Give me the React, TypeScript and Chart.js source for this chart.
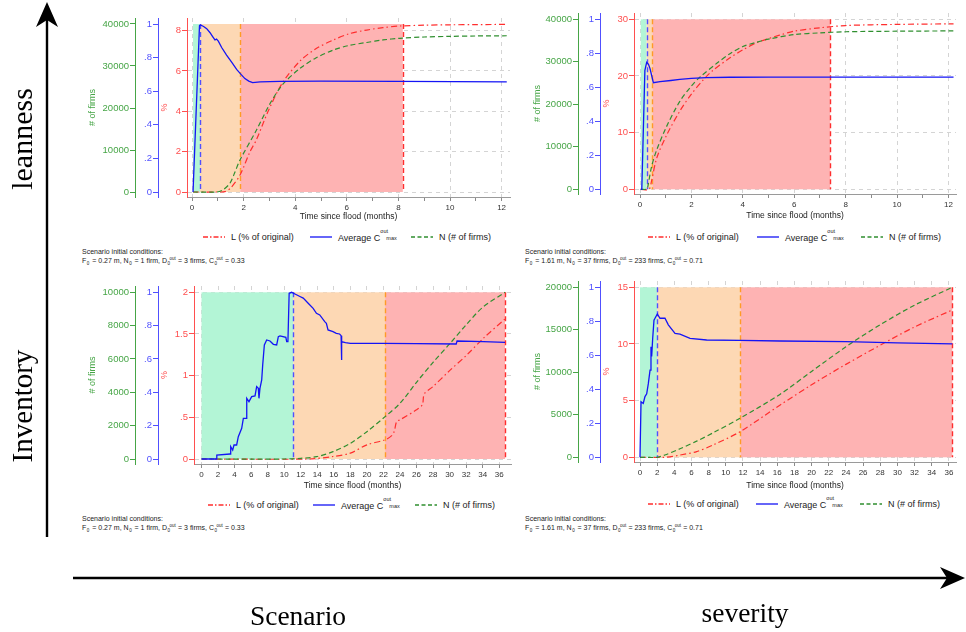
import React, { useEffect, useRef } from "react";
import { Chart, registerables } from "chart.js";

Chart.register(...registerables);

const SANS = '"Liberation Sans", Arial, Helvetica, sans-serif';
const SERIF = '"Liberation Serif", "Times New Roman", serif';

const GREEN_AXIS = "#46a546";
const GREEN_LINE = "#2f8f2f";
const BLUE_AXIS = "#5050ff";
const BLUE_LINE = "#1414f5";
const RED_AXIS = "#ff4f4f";
const RED_LINE = "#ff2e2e";
const ORANGE = "#ff9b26";
const MINT = "#b3f5d6";
const PEACH = "#fdd8b4";
const PINK = "#feb3b3";
const GRID = "#d4d4d4";

// ---------- shared ticks ----------
const blueTicks = [0, 0.2, 0.4, 0.6, 0.8, 1];
const blueLabels = ["0", ".2", ".4", ".6", ".8", "1"];
const shortXTicks = [0, 2, 4, 6, 8, 10, 12];
const shortXMinor = [1, 3, 5, 7, 9, 11];
const longXTicks = [0, 2, 4, 6, 8, 10, 12, 14, 16, 18, 20, 22, 24, 26, 28, 30, 32, 34, 36];

// ---------- top-left: lean inventory, F0 = 0.27 m ----------
const tlPhases = [0.04, 0.31, 1.87, 8.17];
const tlRedTicks = [0, 2, 4, 6, 8];
const tlRedLabels = ["0", "2", "4", "6", "8"];
const tlGreenTicks = [0, 10000, 20000, 30000, 40000];
const tlTimeL = [0.04, 1.0, 1.28, 1.5, 1.86, 2.25, 2.5, 2.95, 3.5, 4.19, 4.8, 5.48, 6.1, 6.77, 7.4, 8.06, 9, 10, 11, 12.2];
const tlL = [0, 0, 0.02, 0.2, 0.84, 2.0, 2.6, 4.0, 5.4, 6.5, 7.1, 7.54, 7.85, 8.03, 8.15, 8.23, 8.27, 8.29, 8.3, 8.31];
const tlTimeC = [0.04, 0.29, 0.33, 0.45, 0.57, 0.7, 0.8, 0.89, 0.95, 1.02, 1.15, 1.34, 1.55, 1.73, 1.9, 2.05, 2.2, 2.35, 2.64, 3.4, 5, 8, 12.2];
const tlC = [0, 0.99, 0.994, 0.985, 0.972, 0.948, 0.925, 0.905, 0.91, 0.898, 0.86, 0.815, 0.77, 0.73, 0.7, 0.675, 0.66, 0.651, 0.655, 0.659, 0.66, 0.658, 0.655];
const tlTimeN = [0.04, 0.96, 1.2, 1.47, 1.65, 1.86, 2.5, 3.02, 3.5, 4.19, 4.8, 5.48, 6.1, 6.77, 7.4, 8.06, 9, 10, 11, 12.2];
const tlN = [0, 0, 500, 2070, 4500, 7620, 14760, 21000, 25500, 29450, 31900, 33800, 34900, 35600, 36200, 36600, 36900, 37050, 37150, 37200];

// ---------- top-right: lean inventory, F0 = 1.61 m ----------
const trPhases = [0.03, 0.26, 0.48, 7.4];
const trRedTicks = [0, 10, 20, 30];
const trRedLabels = ["0", "10", "20", "30"];
const trGreenTicks = [0, 10000, 20000, 30000, 40000];
const trTimeL = [0.03, 0.35, 0.45, 0.65, 1.03, 1.55, 2.0, 2.5, 2.84, 3.5, 4.0, 4.5, 5.0, 5.43, 6.0, 7.0, 8.0, 10.0, 12.2];
const trL = [0, 0, 1.5, 5.5, 9.5, 13.8, 16.8, 19.5, 21.0, 23.2, 24.6, 25.8, 26.6, 27.2, 27.9, 28.5, 28.9, 29.1, 29.2];
const trTimeC = [0.03, 0.07, 0.19, 0.26, 0.33, 0.39, 0.46, 0.52, 0.78, 1.2, 1.55, 2.0, 2.58, 3.5, 5, 8, 12.2];
const trC = [0, 0, 0.7, 0.747, 0.735, 0.71, 0.665, 0.627, 0.633, 0.64, 0.647, 0.652, 0.657, 0.659, 0.66, 0.66, 0.66];
const trTimeN = [0.03, 0.26, 0.3, 0.45, 0.65, 1.03, 1.55, 2.0, 2.33, 3.0, 3.5, 4.0, 4.5, 5.0, 6.0, 7.0, 8.0, 10.0, 12.2];
const trN = [0, 0, 500, 5330, 9250, 14730, 20700, 24300, 26400, 29700, 31900, 33600, 34530, 35330, 36400, 36800, 37070, 37200, 37270];

// ---------- bottom-left: large inventory, F0 = 0.27 m ----------
const blPhases = [0, 11.1, 22.2, 36.7];
const blRedTicks = [0, 0.5, 1, 1.5, 2];
const blRedLabels = ["0", ".5", "1", "1.5", "2"];
const blGreenTicks = [0, 2000, 4000, 6000, 8000, 10000];
const blTimeL = [0, 13, 15.9, 18, 20, 22.2, 23.0, 23.3, 23.6, 24.0, 26.0, 26.7, 26.85, 27.0, 28.0, 30.0, 32.1, 34.1, 36.7];
const blL = [0, 0, 0.03, 0.07, 0.17, 0.23, 0.28, 0.33, 0.45, 0.47, 0.59, 0.65, 0.75, 0.79, 0.87, 1.06, 1.25, 1.45, 1.68];
const blTimeC = [0, 1.84, 1.85, 3.45, 3.53, 3.77, 3.93, 4.25, 4.45, 4.86, 5.06, 5.46, 5.47, 5.74, 6.07, 6.47, 6.67, 6.87, 6.95, 7.07, 7.28, 7.4, 7.6, 7.88, 8.28, 8.69, 9.09, 9.29, 9.49, 10.2, 10.3, 10.45, 10.6, 10.9, 11.3, 11.9, 12.3, 12.9, 13.5, 13.9, 14.3, 14.9, 15.1, 15.3, 15.9, 16.3, 16.7, 16.88, 16.92, 16.97, 17.4, 18.0, 22, 26, 30.8, 30.9, 34.1, 36.7];
const blC = [0, 0, 0.024, 0.03, 0.074, 0.054, 0.084, 0.084, 0.134, 0.184, 0.244, 0.244, 0.364, 0.344, 0.374, 0.378, 0.434, 0.424, 0.364, 0.424, 0.474, 0.564, 0.684, 0.714, 0.708, 0.688, 0.684, 0.734, 0.738, 0.73, 0.704, 0.704, 0.994, 1.0, 0.99, 0.975, 0.965, 0.934, 0.904, 0.874, 0.864, 0.824, 0.814, 0.774, 0.764, 0.754, 0.75, 0.74, 0.594, 0.704, 0.698, 0.694, 0.694, 0.692, 0.69, 0.708, 0.704, 0.7];
const blTimeN = [0, 10, 12, 13.9, 15.9, 18, 20, 22.2, 24, 26, 28, 30, 32, 34, 36.7];
const blN = [0, 0, 40, 140, 440, 940, 1640, 2540, 3340, 4600, 5800, 6900, 8050, 9100, 10000];

// ---------- bottom-right: large inventory, F0 = 1.61 m ----------
const brPhases = [0, 2.0, 11.7, 36.4];
const brRedTicks = [0, 5, 10, 15];
const brRedLabels = ["0", "5", "10", "15"];
const brGreenTicks = [0, 5000, 10000, 15000, 20000];
const brTimeL = [0, 3, 4.66, 6.6, 8.55, 11.66, 16.3, 20, 24, 28.5, 32, 36.4];
const brL = [0, 0, 0.2, 0.5, 1.1, 2.26, 4.6, 6.4, 8.2, 10.1, 11.5, 13.0];
const brTimeC = [0, 0.1, 0.12, 0.38, 0.58, 0.78, 0.97, 1.17, 1.28, 1.36, 1.48, 1.63, 1.75, 2.02, 2.33, 2.91, 3.3, 4.08, 4.66, 5.83, 7.77, 11.66, 16.3, 24, 30, 36.4];
const brC = [0, 0, 0.327, 0.317, 0.357, 0.373, 0.433, 0.513, 0.651, 0.593, 0.7, 0.807, 0.818, 0.843, 0.818, 0.818, 0.779, 0.729, 0.725, 0.7, 0.69, 0.688, 0.684, 0.68, 0.673, 0.667];
const brTimeN = [0, 2, 2.9, 4.66, 6.6, 8.55, 11.66, 16.3, 20, 24, 28, 32, 36.4];
const brN = [0, 0, 270, 1000, 1900, 2900, 4590, 7400, 10100, 13000, 15600, 17900, 20000];

type Geom = {
  canvasLeft: number;
  chartLeft: number;
  chartRight: number;
  greenX: number;
  blueX: number;
  valTop: number;
  val0: number;
  x0: number;
  ppm: number;
  xBoxH: number;
};

type PanelProps = {
  geom: Geom;
  xTicks: number[];
  xMinor: number[];
  phases: number[];
  redTop: number;
  redTicks: number[];
  redLabels: string[];
  greenTop: number;
  greenTicks: number[];
  timeL: number[];
  L: number[];
  timeC: number[];
  C: number[];
  timeN: number[];
  N: number[];
};

const toPoints = (t: number[], v: number[]) => t.map((x, i) => ({ x, y: v[i] }));

// Shaded flood phases with dashed boundaries, drawn beneath the curves
const phasePlugin = {
  id: "phases",
  beforeDatasetsDraw(chart: any, _args: any, opts: any) {
    const { ctx, scales } = chart;
    const xs = scales.x;
    const ys = scales.yR;
    const b: number[] = opts.bounds;
    const yTop = ys.getPixelForValue(opts.top);
    const yBase = ys.getPixelForValue(0);
    const fills = [MINT, PEACH, PINK];
    const strokes = [BLUE_AXIS, ORANGE, RED_LINE];
    ctx.save();
    for (let i = 0; i < 3; i++) {
      const a = xs.getPixelForValue(b[i]);
      const c = xs.getPixelForValue(b[i + 1]);
      ctx.fillStyle = fills[i];
      ctx.fillRect(a, yTop, c - a, yBase - yTop);
    }
    ctx.setLineDash([5, 3]);
    ctx.lineWidth = 1.4;
    for (let i = 1; i < 4; i++) {
      const px = Math.round(xs.getPixelForValue(b[i])) + 0.5;
      ctx.strokeStyle = strokes[i - 1];
      ctx.beginPath();
      ctx.moveTo(px, yTop);
      ctx.lineTo(px, yBase);
      ctx.stroke();
    }
    ctx.restore();
  },
};

function Panel(p: PanelProps) {
  const ref = useRef<HTMLCanvasElement>(null);
  const g = p.geom;
  const h = g.val0 - g.valTop;
  const chartTop = Math.round(g.valTop - (h * 6) / 168);
  const chartBottom = Math.round(g.val0 + (h * 5) / 168);
  const canvasTop = chartTop - 6;
  const width = g.chartRight + 6 - g.canvasLeft;
  const height = chartBottom + g.xBoxH - canvasTop;

  useEffect(() => {
    const yRange = (top: number) => {
      const ppu = h / top;
      return { min: -(chartBottom - g.val0) / ppu, max: top + (g.valTop - chartTop) / ppu };
    };
    const xMin = -(g.x0 - g.chartLeft) / g.ppm;
    const xMax = xMin + (g.chartRight - g.chartLeft) / g.ppm;
    const allX = [...p.xTicks, ...p.xMinor].sort((a, b) => a - b);

    const yAxis = (o: {
      color: string;
      top: number;
      ticks: number[];
      labels: string[];
      width: number;
      weight: number;
      grid: boolean;
      title?: string;
      titlePad?: number;
    }) => ({
      type: "linear",
      position: "left",
      weight: o.weight,
      bounds: "data",
      ...yRange(o.top),
      afterBuildTicks: (s: any) => {
        s.ticks = o.ticks.map((v) => ({ value: v }));
      },
      afterFit: (s: any) => {
        s.width = o.width;
        s.paddingTop = 0;
        s.paddingBottom = 0;
      },
      ticks: {
        color: o.color,
        font: { family: SANS, size: 9.5 },
        padding: 1,
        autoSkip: false,
        callback: (_v: any, i: number) => o.labels[i],
      },
      grid: {
        drawOnChartArea: o.grid,
        color: GRID,
        lineWidth: 1,
        tickColor: o.color,
        tickLength: 5,
        drawTicks: true,
      },
      border: { color: o.color, width: 1, dash: [4, 4] },
      title: o.title
        ? {
            display: true,
            text: o.title,
            color: o.color,
            font: { family: SANS, size: 9 },
            padding: { top: o.titlePad ?? 3, bottom: o.titlePad ?? 3 },
          }
        : { display: false },
    });

    const chart = new Chart(ref.current as HTMLCanvasElement, {
      type: "line",
      data: {
        datasets: [
          {
            label: "Average C out max",
            data: toPoints(p.timeC, p.C),
            yAxisID: "yB",
            borderColor: BLUE_LINE,
            borderWidth: 1.3,
            pointRadius: 0,
            tension: 0,
            fill: false,
          },
          {
            label: "N (# of firms)",
            data: toPoints(p.timeN, p.N),
            yAxisID: "yG",
            borderColor: GREEN_LINE,
            borderWidth: 1.2,
            borderDash: [5, 3],
            pointRadius: 0,
            tension: 0.3,
            fill: false,
          },
          {
            label: "L (% of original)",
            data: toPoints(p.timeL, p.L),
            yAxisID: "yR",
            borderColor: RED_LINE,
            borderWidth: 1.2,
            borderDash: [6, 3, 1.5, 3],
            pointRadius: 0,
            tension: 0.3,
            fill: false,
          },
        ],
      },
      options: {
        responsive: false,
        animation: false,
        devicePixelRatio: 1,
        layout: { padding: { top: 6, right: 6, left: 0, bottom: 0 } },
        plugins: {
          legend: { display: false },
          tooltip: { enabled: false },
          phases: { bounds: p.phases, top: p.redTop },
        } as any,
        scales: {
          x: {
            type: "linear",
            min: xMin,
            max: xMax,
            bounds: "data",
            afterBuildTicks: (s: any) => {
              s.ticks = allX.map((v) => ({ value: v }));
            },
            afterFit: (s: any) => {
              s.height = g.xBoxH;
              s.paddingLeft = 0;
              s.paddingRight = 0;
            },
            ticks: {
              color: "#333",
              font: { family: SANS, size: 8 },
              padding: 2,
              maxRotation: 0,
              autoSkip: false,
              callback: (v: any) => (p.xTicks.includes(v) ? String(v) : ""),
            },
            grid: {
              drawOnChartArea: true,
              color: (c: any) => (c.tick && p.xTicks.includes(c.tick.value) ? GRID : "rgba(0,0,0,0)"),
              tickColor: "#8a8a8a",
              tickLength: 4,
            },
            border: { color: "#9a9a9a", width: 1, dash: [4, 4] },
            title: {
              display: true,
              text: "Time since flood (months)",
              color: "#222",
              font: { family: SANS, size: 8.5 },
              padding: { top: 4, bottom: 4 },
            },
          },
          yG: yAxis({
            color: GREEN_AXIS,
            top: p.greenTop,
            ticks: p.greenTicks,
            labels: p.greenTicks.map(String),
            width: g.greenX - g.canvasLeft,
            weight: 3,
            grid: false,
            title: "# of firms",
            titlePad: 3,
          }),
          yB: yAxis({
            color: BLUE_AXIS,
            top: 1,
            ticks: blueTicks,
            labels: blueLabels,
            width: g.blueX - g.greenX,
            weight: 2,
            grid: false,
          }),
          yR: yAxis({
            color: RED_AXIS,
            top: p.redTop,
            ticks: p.redTicks,
            labels: p.redLabels,
            width: g.chartLeft - g.blueX,
            weight: 1,
            grid: true,
            title: "%",
            titlePad: 1.5,
          }),
        } as any,
      },
      plugins: [phasePlugin as any],
    } as any);
    return () => chart.destroy();
  }, []);

  return (
    <canvas
      ref={ref}
      width={width}
      height={height}
      style={{ position: "absolute", left: g.canvasLeft, top: canvasTop, width, height }}
    />
  );
}

function Sample({ kind }: { kind: "L" | "C" | "N" }) {
  const color = kind === "L" ? RED_LINE : kind === "C" ? BLUE_LINE : GREEN_LINE;
  const dash = kind === "L" ? "5 2 1.5 2" : kind === "N" ? "4 2.5" : undefined;
  return (
    <svg width={22} height={6} style={{ display: "block", marginRight: 6 }}>
      <line x1={0} y1={3} x2={22} y2={3} stroke={color} strokeWidth={1.3} strokeDasharray={dash} />
    </svg>
  );
}

function LegendRow({ y, xs }: { y: number; xs: number[] }) {
  const item = (left: number, kind: "L" | "C" | "N", content: React.ReactNode) => (
    <div
      key={kind}
      style={{
        position: "absolute",
        left,
        top: y - 7,
        height: 14,
        display: "flex",
        alignItems: "center",
        font: `9px ${SANS}`,
        color: "#222",
        whiteSpace: "nowrap",
      }}
    >
      <Sample kind={kind} />
      <span>{content}</span>
    </div>
  );
  return (
    <>
      {item(xs[0], "L", "L (% of original)")}
      {item(
        xs[1],
        "C",
        <>
          Average C
          <span style={{ position: "relative", display: "inline-block", width: 17, height: 9 }}>
            <span style={{ position: "absolute", left: 0, top: -4, fontSize: 5.5 }}>out</span>
            <span style={{ position: "absolute", left: 6, top: 3, fontSize: 5.5 }}>max</span>
          </span>
        </>
      )}
      {item(xs[2], "N", "N (# of firms)")}
    </>
  );
}

function SubSup({ sup }: { sup?: string }) {
  return (
    <span style={{ position: "relative", display: "inline-block", width: sup ? 9 : 4, height: 7 }}>
      <span style={{ position: "absolute", left: 0.5, top: 2.5, fontSize: 4.5 }}>0</span>
      {sup && <span style={{ position: "absolute", left: 2.5, top: -2.5, fontSize: 4.5 }}>{sup}</span>}
    </span>
  );
}

function Conditions({ left, top, f0, n0, d0, c0 }: { left: number; top: number; f0: string; n0: string; d0: string; c0: string }) {
  return (
    <div style={{ position: "absolute", left, top, font: `7px ${SANS}`, lineHeight: "9px", color: "#222", whiteSpace: "nowrap" }}>
      <div>Scenario initial conditions:</div>
      <div>
        F<SubSup /> = {f0} m, N<SubSup /> = {n0}, D<SubSup sup="out" /> = {d0} firms, C<SubSup sup="out" /> = {c0}
      </div>
    </div>
  );
}

function BigLabel({ text, cx, cy, rotate, size }: { text: string; cx: number; cy: number; rotate?: boolean; size: number }) {
  return (
    <div
      style={{
        position: "absolute",
        left: cx,
        top: cy,
        transform: `translate(-50%, -50%)${rotate ? " rotate(-90deg)" : ""}`,
        font: `${size}px ${SERIF}`,
        color: "#000",
        whiteSpace: "nowrap",
        lineHeight: 1,
      }}
    >
      {text}
    </div>
  );
}

export default function App() {
  return (
    <div style={{ position: "fixed", left: 0, top: 0, width: 966, height: 632, background: "#fff", overflow: "hidden" }}>
      <Panel
        geom={{ canvasLeft: 84, chartLeft: 187, chartRight: 510, greenX: 135, blueX: 158, valTop: 24, val0: 192, x0: 192, ppm: 25.8, xBoxH: 29 }}
        xTicks={shortXTicks}
        xMinor={shortXMinor}
        phases={tlPhases}
        redTop={8.33}
        redTicks={tlRedTicks}
        redLabels={tlRedLabels}
        greenTop={40000}
        greenTicks={tlGreenTicks}
        timeL={tlTimeL}
        L={tlL}
        timeC={tlTimeC}
        C={tlC}
        timeN={tlTimeN}
        N={tlN}
      />
      <Panel
        geom={{ canvasLeft: 529, chartLeft: 634, chartRight: 956, greenX: 578, blueX: 600, valTop: 19.3, val0: 189.3, x0: 640, ppm: 25.7, xBoxH: 31 }}
        xTicks={shortXTicks}
        xMinor={shortXMinor}
        phases={trPhases}
        redTop={30}
        redTicks={trRedTicks}
        redLabels={trRedLabels}
        greenTop={40000}
        greenTicks={trGreenTicks}
        timeL={trTimeL}
        L={trL}
        timeC={trTimeC}
        C={trC}
        timeN={trTimeN}
        N={trN}
      />
      <Panel
        geom={{ canvasLeft: 84, chartLeft: 194, chartRight: 511, greenX: 135, blueX: 158, valTop: 292.3, val0: 459, x0: 201.5, ppm: 8.27, xBoxH: 31 }}
        xTicks={longXTicks}
        xMinor={[]}
        phases={blPhases}
        redTop={2}
        redTicks={blRedTicks}
        redLabels={blRedLabels}
        greenTop={10000}
        greenTicks={blGreenTicks}
        timeL={blTimeL}
        L={blL}
        timeC={blTimeC}
        C={blC}
        timeN={blTimeN}
        N={blN}
      />
      <Panel
        geom={{ canvasLeft: 529, chartLeft: 634, chartRight: 956, greenX: 578, blueX: 600, valTop: 287.3, val0: 457.3, x0: 640, ppm: 8.58, xBoxH: 33 }}
        xTicks={longXTicks}
        xMinor={[]}
        phases={brPhases}
        redTop={15}
        redTicks={brRedTicks}
        redLabels={brRedLabels}
        greenTop={20000}
        greenTicks={brGreenTicks}
        timeL={brTimeL}
        L={brL}
        timeC={brTimeC}
        C={brC}
        timeN={brTimeN}
        N={brN}
      />

      <LegendRow y={237} xs={[203, 310, 411]} />
      <LegendRow y={237} xs={[648, 757, 861]} />
      <LegendRow y={505} xs={[208, 313, 415]} />
      <LegendRow y={504} xs={[648, 756, 860]} />

      <Conditions left={82} top={247} f0="0.27" n0="1 firm" d0="3" c0="0.33" />
      <Conditions left={525} top={247} f0="1.61" n0="37 firms" d0="233" c0="0.71" />
      <Conditions left={82} top={514} f0="0.27" n0="1 firm" d0="3" c0="0.33" />
      <Conditions left={525} top={514} f0="1.61" n0="37 firms" d0="233" c0="0.71" />

      <svg width={966} height={632} style={{ position: "absolute", left: 0, top: 0, pointerEvents: "none" }}>
        <line x1={47} y1={537} x2={47} y2={18} stroke="#000" strokeWidth={2.4} />
        <polygon points="47,2 36,27 47,20 58,27" fill="#000" />
        <line x1={73} y1={578} x2={948} y2={578} stroke="#000" strokeWidth={2.4} />
        <polygon points="965,578 940,567 947,578 940,589" fill="#000" />
      </svg>

      <BigLabel text="leanness" cx={22} cy={139} size={30} rotate />
      <BigLabel text="Inventory" cx={22} cy={406} size={29} rotate />
      <BigLabel text="Scenario" cx={298} cy={616} size={27.5} />
      <BigLabel text="severity" cx={745} cy={613} size={27.5} />
    </div>
  );
}
